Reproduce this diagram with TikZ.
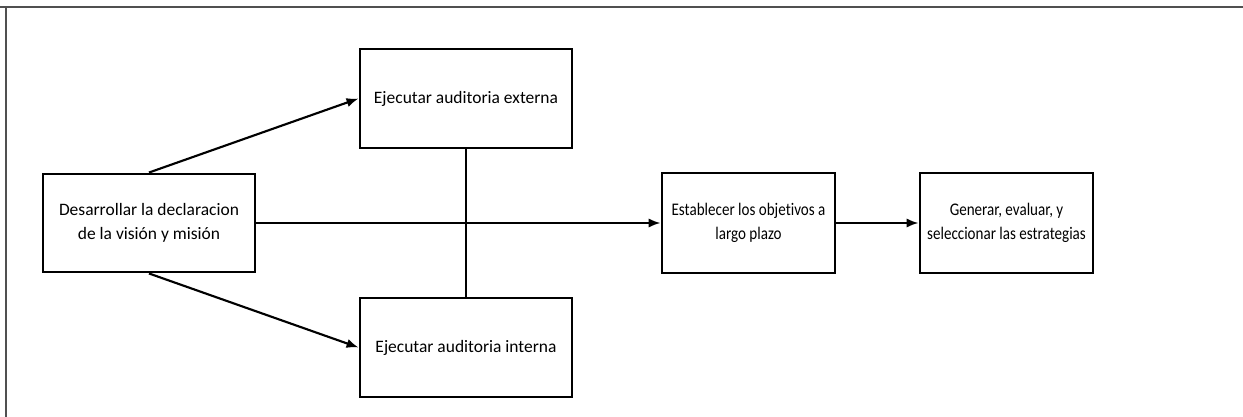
\documentclass[tikz,border=0pt]{standalone}
\usepackage{fontspec}
\setmainfont{Carlito}[Ligatures={NoCommon}]
\newfontfamily\narrowfont{Carlito}[Ligatures={NoCommon}, FakeStretch=0.85]
\usetikzlibrary{arrows.meta}
\definecolor{framegray}{RGB}{80,80,80}
\begin{document}
\begin{tikzpicture}[x=0.75pt,y=-0.75pt,
  stepbox/.style={draw=black, line width=2.2pt, fill=white, align=center,
    inner sep=0pt, font=\fontsize{13.1}{18}\selectfont},
  narrowbox/.style={stepbox, font=\narrowfont\fontsize{13.3}{18}\selectfont},
  arr/.style={line width=1.6pt, -{Latex[length=9pt,width=7pt]}},
  plain/.style={line width=1.6pt},
  framel/.style={draw=framegray, line width=1pt}]
\useasboundingbox (0,0) rectangle (1243,417);
\fill[white] (0,0) rectangle (1243,417);
\coordinate (f1) at (0,7);
\coordinate (f2) at (1243,7);
\coordinate (f3) at (6,7);
\coordinate (f4) at (6,417);
\draw[framel] (f1) -- (f2);
\draw[framel] (f3) -- (f4);

\node[stepbox, minimum width=212*0.75pt, minimum height=98*0.75pt] (A) at (149,223)
  {Desarrollar la declaracion\\de la visión y misión};
\node[stepbox, minimum width=212*0.75pt, minimum height=99*0.75pt] (B) at (466,98.5)
  {Ejecutar auditoria externa};
\node[stepbox, minimum width=212*0.75pt, minimum height=99*0.75pt] (C) at (466,347.5)
  {Ejecutar auditoria interna};
\node[narrowbox, minimum width=173*0.75pt, minimum height=100*0.75pt] (D) at (748.5,223)
  {Establecer los objetivos a\\largo plazo};
\node[narrowbox, minimum width=173*0.75pt, minimum height=100*0.75pt] (E) at (1006.5,223)
  {Generar, evaluar, y\\seleccionar las estrategias};

\draw[arr] (A.north) -- (B.west);
\draw[arr] (A.south) -- (C.west);
\draw[arr] (A.east) -- (D.west);
\draw[plain] (B.south) -- (C.north);
\draw[arr] (D.east) -- (E.west);
\end{tikzpicture}
\end{document}
